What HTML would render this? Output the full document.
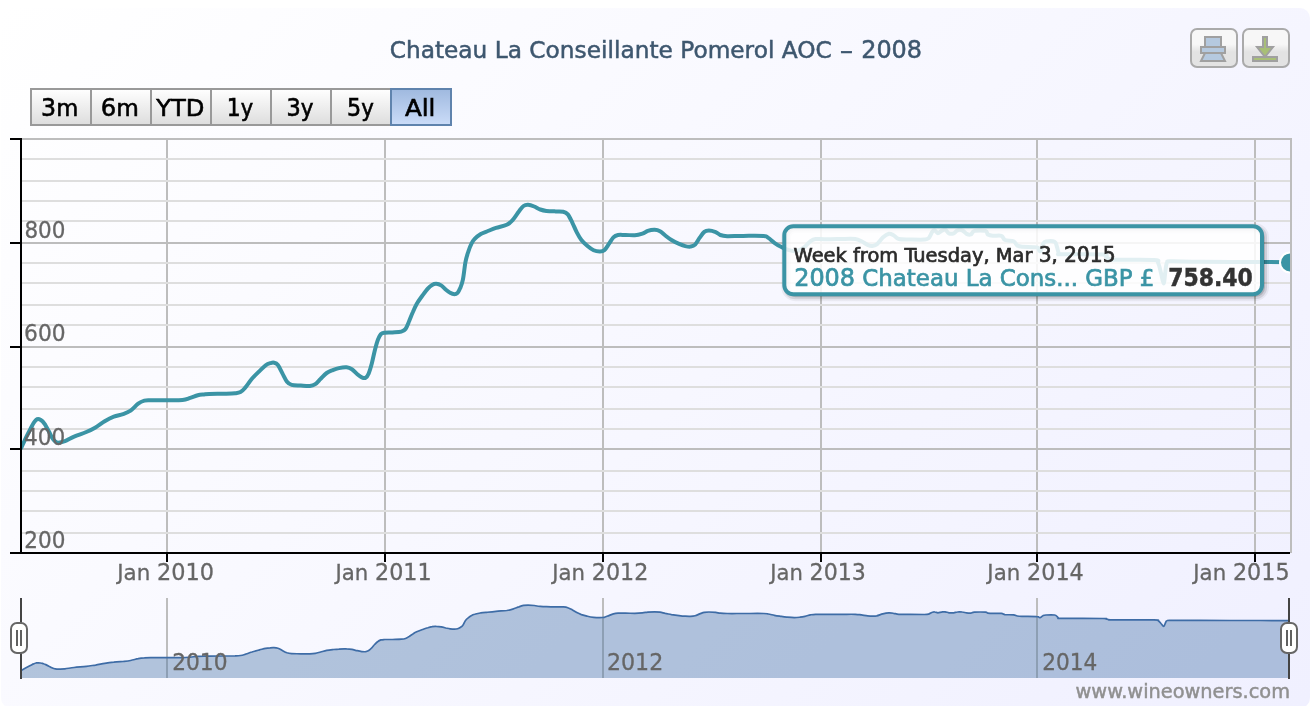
<!DOCTYPE html>
<html lang="en"><head><meta charset="utf-8"><title>Chateau La Conseillante Pomerol AOC - 2008</title>
<style>html,body{margin:0;padding:0;background:#fff;}body{width:1310px;height:706px;overflow:hidden;}svg{display:block;}text{font-family:"DejaVu Sans", "Liberation Sans", sans-serif;stroke-width:0.5px;}</style></head><body>
<svg width="1310" height="706" viewBox="0 0 1310 706">
<defs>
<linearGradient id="bg" gradientUnits="userSpaceOnUse" x1="0" y1="8" x2="1000" y2="1008"><stop offset="0" stop-color="rgb(255,255,255)"/><stop offset="1" stop-color="rgb(240,240,255)"/></linearGradient>
<linearGradient id="btn" x1="0" y1="0" x2="0" y2="1"><stop offset="0.4" stop-color="#F7F7F7"/><stop offset="0.6" stop-color="#E3E3E3"/></linearGradient>
<linearGradient id="btnr" x1="0" y1="0" x2="0" y2="1"><stop offset="0" stop-color="#FFFFFF"/><stop offset="1" stop-color="#DDDDDD"/></linearGradient>
<linearGradient id="btnsel" x1="0" y1="0" x2="0" y2="1"><stop offset="0" stop-color="#9FB9DF"/><stop offset="1" stop-color="#CBDCF8"/></linearGradient>
<clipPath id="plotclip"><rect x="21" y="139" width="1269" height="414"/></clipPath>
<clipPath id="navclip"><rect x="21" y="598" width="1269" height="80"/></clipPath>
</defs>
<rect x="1" y="8" width="1309" height="700" rx="10" ry="10" fill="url(#bg)"/>
<text class="title" x="389.7" y="58" font-size="23.2" fill="#3E576F" stroke="#3E576F" textLength="442.14" lengthAdjust="spacingAndGlyphs">Chateau La Conseillante Pomerol AOC</text>
<text class="title" x="839.4" y="58" font-size="23.2" fill="#3E576F" stroke="#3E576F" textLength="13.86" lengthAdjust="spacingAndGlyphs">-</text>
<text class="title" x="861.2" y="58" font-size="24.2" fill="#3E576F" stroke="#3E576F" textLength="60.88" lengthAdjust="spacingAndGlyphs">2008</text>
<path d="M167 139V553" stroke="#BDBDBD" stroke-width="2" fill="none"/>
<path d="M385 139V553" stroke="#BDBDBD" stroke-width="2" fill="none"/>
<path d="M603 139V553" stroke="#BDBDBD" stroke-width="2" fill="none"/>
<path d="M821 139V553" stroke="#BDBDBD" stroke-width="2" fill="none"/>
<path d="M1037 139V553" stroke="#BDBDBD" stroke-width="2" fill="none"/>
<path d="M1255 139V553" stroke="#BDBDBD" stroke-width="2" fill="none"/>
<path d="M21 159H1291" stroke="#DEDEDE" stroke-width="2" fill="none"/>
<path d="M21 181H1291" stroke="#DEDEDE" stroke-width="2" fill="none"/>
<path d="M21 201H1291" stroke="#DEDEDE" stroke-width="2" fill="none"/>
<path d="M21 221H1291" stroke="#DEDEDE" stroke-width="2" fill="none"/>
<path d="M21 263H1291" stroke="#DEDEDE" stroke-width="2" fill="none"/>
<path d="M21 283H1291" stroke="#DEDEDE" stroke-width="2" fill="none"/>
<path d="M21 305H1291" stroke="#DEDEDE" stroke-width="2" fill="none"/>
<path d="M21 325H1291" stroke="#DEDEDE" stroke-width="2" fill="none"/>
<path d="M21 367H1291" stroke="#DEDEDE" stroke-width="2" fill="none"/>
<path d="M21 387H1291" stroke="#DEDEDE" stroke-width="2" fill="none"/>
<path d="M21 409H1291" stroke="#DEDEDE" stroke-width="2" fill="none"/>
<path d="M21 429H1291" stroke="#DEDEDE" stroke-width="2" fill="none"/>
<path d="M21 471H1291" stroke="#DEDEDE" stroke-width="2" fill="none"/>
<path d="M21 491H1291" stroke="#DEDEDE" stroke-width="2" fill="none"/>
<path d="M21 511H1291" stroke="#DEDEDE" stroke-width="2" fill="none"/>
<path d="M21 533H1291" stroke="#DEDEDE" stroke-width="2" fill="none"/>
<path d="M21 243H1291" stroke="#BDBDBD" stroke-width="2" fill="none"/>
<path d="M21 347H1291" stroke="#BDBDBD" stroke-width="2" fill="none"/>
<path d="M21 449H1291" stroke="#BDBDBD" stroke-width="2" fill="none"/>
<path d="M21 139H1291V553" stroke="#BDBDBD" stroke-width="2" fill="none"/>
<g clip-path="url(#plotclip)"><path d="M21.2 448.0C22.0 446.3 24.5 440.7 26.0 437.6C27.5 434.5 29.0 431.6 30.3 429.2C31.6 426.8 32.6 424.6 33.6 423.0C34.6 421.4 35.2 420.6 36.0 419.9C36.8 419.2 37.5 419.0 38.2 419.0C38.9 419.0 39.7 419.3 40.4 419.7C41.1 420.1 41.8 420.5 42.6 421.4C43.4 422.3 44.2 423.2 45.3 424.9C46.3 426.6 47.8 429.4 48.9 431.5C50.0 433.6 50.9 435.8 51.9 437.4C52.9 439.0 54.0 440.3 55.0 441.2C56.0 442.1 56.4 442.7 58.0 442.7C59.6 442.7 62.2 442.2 64.9 441.2C67.6 440.2 70.5 438.1 74.1 436.6C77.7 435.1 82.7 433.5 86.3 432.0C89.9 430.5 92.4 429.2 95.5 427.4C98.6 425.6 101.7 423.1 104.7 421.3C107.8 419.5 110.8 417.9 113.8 416.7C116.8 415.5 120.2 415.1 123.0 414.1C125.8 413.1 128.1 412.3 130.6 410.6C133.1 408.9 135.9 405.4 138.2 403.7C140.5 402.0 142.3 401.3 144.4 400.7C146.5 400.1 146.7 400.3 150.5 400.2C154.3 400.1 162.0 400.2 167.3 400.2C172.6 400.1 178.7 400.3 182.5 399.9C186.3 399.5 187.6 398.7 190.2 397.9C192.8 397.1 195.5 395.8 197.8 395.2C200.1 394.6 202.1 394.6 204.0 394.4C205.9 394.2 206.0 394.1 209.2 394.0C212.3 393.9 218.6 393.8 222.9 393.7C227.2 393.6 232.2 393.6 235.1 393.3C238.0 393.0 238.8 393.0 240.5 392.1C242.2 391.2 243.1 390.1 245.0 387.9C246.9 385.7 249.5 381.6 251.9 378.8C254.3 376.0 257.2 373.4 259.5 371.1C261.8 368.9 263.8 366.6 265.6 365.3C267.4 364.0 268.8 363.6 270.2 363.2C271.6 362.8 272.7 362.4 274.0 362.7C275.3 363.0 276.5 363.2 277.9 365.0C279.3 366.8 280.9 370.6 282.4 373.4C283.9 376.2 285.5 379.9 287.0 381.8C288.5 383.7 289.3 384.3 291.6 384.9C293.9 385.5 297.8 385.4 300.8 385.6C303.9 385.8 307.5 386.2 309.9 386.0C312.3 385.8 313.5 385.3 315.3 384.1C317.1 382.9 318.7 380.7 320.6 378.8C322.5 376.9 324.7 374.4 326.7 373.0C328.7 371.6 330.8 370.9 332.8 370.1C334.8 369.3 336.6 368.6 338.9 368.1C341.2 367.6 344.4 367.1 346.6 367.3C348.8 367.5 350.1 368.1 351.9 369.2C353.7 370.3 355.6 372.8 357.3 374.2C359.0 375.6 360.4 376.7 361.8 377.3C363.2 377.9 364.5 378.4 365.6 377.7C366.8 377.0 367.7 375.8 368.7 373.4C369.7 371.0 370.8 367.3 371.8 363.5C372.8 359.7 373.8 354.4 374.8 350.5C375.8 346.6 376.9 342.5 377.9 339.8C378.9 337.1 379.8 335.4 380.9 334.2C382.0 333.0 382.8 333.0 384.7 332.7C386.6 332.4 389.6 332.6 392.4 332.4C395.2 332.2 399.1 332.2 401.3 331.6C403.5 331.0 404.2 330.8 405.5 329.0C406.8 327.2 408.0 323.8 409.2 321.0C410.4 318.2 411.6 314.8 412.9 312.0C414.1 309.2 415.1 306.8 416.7 304.0C418.3 301.2 420.6 298.1 422.5 295.5C424.4 292.9 426.2 290.4 427.8 288.6C429.4 286.8 430.7 285.7 432.1 284.9C433.5 284.1 434.8 283.7 436.3 283.8C437.8 283.9 439.5 284.4 441.1 285.4C442.7 286.4 444.4 288.5 445.9 289.7C447.4 290.9 448.7 292.1 450.1 292.8C451.5 293.6 453.1 294.2 454.4 294.2C455.6 294.2 456.6 293.8 457.6 292.8C458.6 291.8 459.3 290.3 460.2 288.1C461.1 285.9 462.0 284.0 462.9 279.6C463.8 275.2 464.6 266.6 465.5 261.8C466.4 257.1 467.5 254.2 468.5 251.1C469.5 248.0 470.6 245.4 471.6 243.4C472.6 241.4 473.2 240.5 474.7 238.9C476.2 237.3 478.8 235.2 480.8 234.0C482.8 232.8 484.4 232.5 486.9 231.5C489.4 230.5 492.7 229.0 496.0 227.9C499.3 226.8 503.9 226.2 506.7 224.8C509.5 223.5 510.8 222.0 512.8 219.8C514.8 217.6 517.1 213.7 518.9 211.4C520.7 209.1 522.0 207.1 523.5 206.0C525.0 204.9 526.3 204.7 528.1 204.8C529.9 204.9 532.2 205.7 534.2 206.5C536.2 207.3 538.3 208.8 540.3 209.5C542.3 210.2 543.8 210.6 546.4 210.9C549.0 211.2 552.8 211.3 555.6 211.4C558.4 211.5 561.2 211.2 563.2 211.7C565.2 212.2 566.3 212.6 567.8 214.4C569.3 216.2 570.9 219.8 572.4 222.8C573.9 225.8 575.3 229.5 576.8 232.4C578.3 235.3 579.6 237.7 581.4 240.0C583.2 242.3 585.5 244.4 587.5 246.1C589.5 247.8 591.6 249.4 593.6 250.3C595.6 251.2 597.9 251.5 599.7 251.5C601.5 251.5 602.8 251.6 604.3 250.3C605.8 249.0 607.4 246.1 608.9 243.9C610.4 241.8 611.9 238.9 613.4 237.4C614.9 235.9 616.0 235.4 618.0 235.0C620.0 234.6 622.8 235.0 625.6 235.0C628.4 235.0 632.0 235.4 634.8 235.2C637.6 235.0 640.2 234.3 642.4 233.6C644.6 232.9 645.8 231.6 647.8 230.9C649.8 230.2 652.7 229.6 654.7 229.7C656.7 229.8 658.2 230.2 660.0 231.2C661.8 232.2 663.4 234.0 665.3 235.5C667.2 237.0 669.2 238.6 671.5 240.0C673.8 241.4 676.8 242.9 679.1 243.9C681.4 244.9 683.3 245.7 685.2 246.1C687.1 246.5 688.9 246.8 690.5 246.6C692.1 246.3 693.6 246.1 695.1 244.6C696.6 243.1 698.2 239.8 699.7 237.7C701.2 235.6 702.8 233.1 704.3 231.9C705.8 230.7 707.0 230.6 708.9 230.6C710.8 230.6 713.8 231.4 715.7 232.1C717.6 232.8 718.4 234.3 720.3 235.0C722.2 235.7 723.4 236.0 727.2 236.2C731.0 236.3 737.1 235.9 743.2 235.9C749.3 235.9 759.5 235.7 763.7 236.0C767.9 236.3 766.5 236.8 768.3 237.9C770.1 239.0 772.4 241.4 774.4 242.8C776.4 244.2 778.5 245.5 780.5 246.6C782.5 247.7 784.3 248.6 786.6 249.4C788.9 250.2 792.1 251.1 794.3 251.2C796.5 251.3 798.2 250.6 800.0 249.8C801.8 249.0 803.3 248.0 805.0 246.6C806.7 245.2 808.5 242.6 810.3 241.3C812.1 240.0 812.9 239.3 815.6 239.0C818.3 238.7 822.0 239.3 826.3 239.3C830.6 239.3 836.8 239.1 841.6 239.0C846.4 238.9 852.0 238.6 855.3 239.0C858.6 239.4 859.5 240.3 861.5 241.3C863.5 242.3 865.8 244.0 867.6 244.8C869.4 245.6 870.6 246.0 872.1 245.9C873.6 245.8 874.9 245.8 876.7 244.4C878.5 243.0 880.8 239.3 882.8 237.5C884.8 235.7 887.1 234.1 888.9 233.7C890.7 233.3 891.8 234.3 893.5 235.2C895.2 236.1 896.1 238.3 898.9 239.0C901.7 239.7 906.0 239.4 910.3 239.5C914.5 239.6 921.3 239.8 924.4 239.6C927.5 239.4 927.4 239.5 928.7 238.2C930.0 236.8 931.4 232.8 932.4 231.5C933.4 230.2 933.9 230.0 934.8 230.3C935.7 230.6 936.8 233.2 937.9 233.3C939.0 233.4 940.3 231.5 941.5 230.9C942.7 230.3 944.0 229.3 945.2 229.7C946.4 230.1 947.5 232.7 948.9 233.3C950.3 233.9 952.3 233.8 953.7 233.3C955.1 232.8 956.0 230.8 957.4 230.3C958.8 229.8 960.8 229.7 962.3 230.3C963.8 230.9 965.2 233.2 966.6 233.9C968.0 234.6 969.5 235.0 970.8 234.5C972.1 234.0 972.0 231.5 974.5 230.9C977.0 230.3 983.3 230.3 985.5 230.9C987.7 231.5 986.7 233.7 987.9 234.5C989.1 235.3 990.5 235.6 992.8 235.8C995.0 236.0 999.4 235.1 1001.4 235.8C1003.4 236.5 1003.0 239.1 1005.0 240.0C1007.0 240.9 1011.6 240.4 1013.6 241.3C1015.6 242.2 1015.9 244.6 1017.3 245.5C1018.7 246.4 1018.9 246.5 1022.1 246.8C1025.3 247.1 1034.0 246.9 1036.8 247.4C1039.6 247.9 1038.4 249.4 1039.0 250.0C1039.6 250.6 1039.8 251.9 1040.5 251.0C1041.2 250.1 1042.0 245.9 1042.9 244.3C1043.8 242.7 1044.0 241.9 1046.0 241.5C1048.0 241.1 1052.8 240.8 1054.6 241.7C1056.4 242.6 1056.3 245.0 1057.0 247.0C1057.7 249.0 1058.1 252.3 1058.9 253.5C1059.7 254.7 1054.7 254.1 1062.0 254.3C1069.3 254.5 1095.4 254.1 1102.7 254.5C1110.0 254.9 1105.0 255.8 1106.0 256.5C1107.0 257.2 1107.8 258.3 1109.0 258.8C1110.2 259.3 1105.5 259.5 1113.0 259.7C1120.5 259.9 1146.5 259.3 1154.0 259.9C1161.5 260.5 1157.0 260.9 1158.2 263.1C1159.4 265.3 1160.1 269.6 1161.0 273.0C1161.9 276.4 1162.9 283.4 1163.6 283.4C1164.3 283.4 1164.7 276.4 1165.2 273.0C1165.7 269.6 1165.8 265.1 1166.8 263.1C1167.8 261.2 1165.5 261.5 1171.0 261.3C1176.5 261.1 1185.0 261.7 1200.0 261.8C1215.0 261.9 1245.8 261.9 1260.8 262.0C1275.8 262.1 1285.1 262.2 1290.0 262.3" fill="none" stroke="#3B94A5" stroke-width="4" stroke-linejoin="round" stroke-linecap="round"/>
<circle cx="1290" cy="262.5" r="10" fill="#3B94A5" stroke="#fff" stroke-width="2"/></g>
<path d="M21 138V553" stroke="#000" stroke-width="2" fill="none"/>
<path d="M10 139H21" stroke="#000" stroke-width="2" fill="none"/>
<path d="M10 243H21" stroke="#000" stroke-width="2" fill="none"/>
<path d="M10 347H21" stroke="#000" stroke-width="2" fill="none"/>
<path d="M10 449H21" stroke="#000" stroke-width="2" fill="none"/>
<path d="M10 553H1290" stroke="#000" stroke-width="2" fill="none"/>
<path d="M167 553V562" stroke="#000" stroke-width="2" fill="none"/>
<path d="M385 553V562" stroke="#000" stroke-width="2" fill="none"/>
<path d="M603 553V562" stroke="#000" stroke-width="2" fill="none"/>
<path d="M821 553V562" stroke="#000" stroke-width="2" fill="none"/>
<path d="M1037 553V562" stroke="#000" stroke-width="2" fill="none"/>
<path d="M1255 553V562" stroke="#000" stroke-width="2" fill="none"/>
<text class="yl" x="24.45" y="237.8" font-size="22.6" fill="#666" stroke="#666" style="stroke-width:0.3px" textLength="41.00" lengthAdjust="spacingAndGlyphs">800</text>
<text class="yl" x="24.05" y="341.3" font-size="22.6" fill="#666" stroke="#666" style="stroke-width:0.3px" textLength="41.53" lengthAdjust="spacingAndGlyphs">600</text>
<text class="yl" x="24.05" y="444.8" font-size="22.6" fill="#666" stroke="#666" style="stroke-width:0.3px" textLength="41.23" lengthAdjust="spacingAndGlyphs">400</text>
<text class="yl" x="24.35" y="548.3" font-size="22.6" fill="#666" stroke="#666" style="stroke-width:0.3px" textLength="41.15" lengthAdjust="spacingAndGlyphs">200</text>
<text class="xl" x="117.25" y="580" font-size="21.7" fill="#666" stroke="#666" style="stroke-width:0.3px" textLength="96.88" lengthAdjust="spacingAndGlyphs">Jan <tspan font-size="22.68">2010</tspan></text>
<text class="xl" x="335.45" y="580" font-size="21.7" fill="#666" stroke="#666" style="stroke-width:0.3px" textLength="96.22" lengthAdjust="spacingAndGlyphs">Jan <tspan font-size="22.68">2011</tspan></text>
<text class="xl" x="552.25" y="580" font-size="21.7" fill="#666" stroke="#666" style="stroke-width:0.3px" textLength="96.12" lengthAdjust="spacingAndGlyphs">Jan <tspan font-size="22.68">2012</tspan></text>
<text class="xl" x="770.25" y="580" font-size="21.7" fill="#666" stroke="#666" style="stroke-width:0.3px" textLength="95.62" lengthAdjust="spacingAndGlyphs">Jan <tspan font-size="22.68">2013</tspan></text>
<text class="xl" x="987.35" y="580" font-size="21.7" fill="#666" stroke="#666" style="stroke-width:0.3px" textLength="96.44" lengthAdjust="spacingAndGlyphs">Jan <tspan font-size="22.68">2014</tspan></text>
<text class="xl" x="1193.35" y="580" font-size="21.7" fill="#666" stroke="#666" style="stroke-width:0.3px" textLength="96.22" lengthAdjust="spacingAndGlyphs">Jan <tspan font-size="22.68">2015</tspan></text>
<path d="M167 598V678" stroke="#BDBDBD" stroke-width="2" fill="none"/>
<path d="M603 598V678" stroke="#BDBDBD" stroke-width="2" fill="none"/>
<path d="M1037 598V678" stroke="#BDBDBD" stroke-width="2" fill="none"/>
<g clip-path="url(#navclip)"><path d="M21.2 670.6C22.0 670.1 24.5 668.6 26.0 667.8C27.5 667.0 29.0 666.2 30.3 665.5C31.6 664.9 32.6 664.3 33.6 663.9C34.6 663.4 35.2 663.2 36.0 663.0C36.8 662.9 37.5 662.8 38.2 662.8C38.9 662.8 39.7 662.9 40.4 663.0C41.1 663.1 41.8 663.2 42.6 663.4C43.4 663.7 44.2 663.9 45.3 664.4C46.3 664.8 47.8 665.6 48.9 666.2C50.0 666.7 50.9 667.3 51.9 667.7C52.9 668.2 54.0 668.5 55.0 668.8C56.0 669.0 56.4 669.2 58.0 669.2C59.6 669.2 62.2 669.0 64.9 668.8C67.6 668.5 70.5 667.9 74.1 667.5C77.7 667.1 82.7 666.7 86.3 666.3C89.9 665.9 92.4 665.5 95.5 665.1C98.6 664.6 101.7 663.9 104.7 663.4C107.8 662.9 110.8 662.5 113.8 662.2C116.8 661.8 120.2 661.7 123.0 661.5C125.8 661.2 128.1 661.0 130.6 660.5C133.1 660.1 135.9 659.1 138.2 658.7C140.5 658.2 142.3 658.0 144.4 657.9C146.5 657.7 146.7 657.7 150.5 657.7C154.3 657.7 162.0 657.7 167.3 657.7C172.6 657.7 178.7 657.7 182.5 657.6C186.3 657.5 187.6 657.3 190.2 657.1C192.8 656.9 195.5 656.5 197.8 656.4C200.1 656.2 202.1 656.2 204.0 656.2C205.9 656.1 206.0 656.1 209.2 656.1C212.3 656.0 218.6 656.0 222.9 656.0C227.2 655.9 232.2 655.9 235.1 655.9C238.0 655.8 238.8 655.8 240.5 655.5C242.2 655.3 243.1 655.0 245.0 654.4C246.9 653.8 249.5 652.7 251.9 652.0C254.3 651.2 257.2 650.5 259.5 649.9C261.8 649.3 263.8 648.7 265.6 648.3C267.4 648.0 268.8 647.9 270.2 647.8C271.6 647.6 272.7 647.5 274.0 647.6C275.3 647.7 276.5 647.8 277.9 648.2C279.3 648.7 280.9 649.7 282.4 650.5C283.9 651.3 285.5 652.2 287.0 652.8C288.5 653.3 289.3 653.4 291.6 653.6C293.9 653.8 297.8 653.7 300.8 653.8C303.9 653.8 307.5 654.0 309.9 653.9C312.3 653.8 313.5 653.7 315.3 653.4C317.1 653.1 318.7 652.5 320.6 652.0C322.5 651.5 324.7 650.8 326.7 650.4C328.7 650.0 330.8 649.8 332.8 649.6C334.8 649.4 336.6 649.2 338.9 649.1C341.2 648.9 344.4 648.8 346.6 648.9C348.8 648.9 350.1 649.1 351.9 649.4C353.7 649.7 355.6 650.4 357.3 650.7C359.0 651.1 360.4 651.4 361.8 651.6C363.2 651.7 364.5 651.8 365.6 651.7C366.8 651.5 367.7 651.1 368.7 650.5C369.7 649.9 370.8 648.9 371.8 647.8C372.8 646.8 373.8 645.4 374.8 644.3C375.8 643.3 376.9 642.2 377.9 641.5C378.9 640.7 379.8 640.3 380.9 639.9C382.0 639.6 382.8 639.6 384.7 639.5C386.6 639.5 389.6 639.5 392.4 639.5C395.2 639.4 399.1 639.4 401.3 639.2C403.5 639.1 404.2 639.0 405.5 638.5C406.8 638.1 408.0 637.1 409.2 636.4C410.4 635.6 411.6 634.7 412.9 634.0C414.1 633.2 415.1 632.5 416.7 631.8C418.3 631.1 420.6 630.2 422.5 629.5C424.4 628.8 426.2 628.1 427.8 627.7C429.4 627.2 430.7 626.9 432.1 626.7C433.5 626.4 434.8 626.3 436.3 626.4C437.8 626.4 439.5 626.5 441.1 626.8C442.7 627.1 444.4 627.6 445.9 628.0C447.4 628.3 448.7 628.6 450.1 628.8C451.5 629.0 453.1 629.2 454.4 629.2C455.6 629.2 456.6 629.1 457.6 628.8C458.6 628.5 459.3 628.1 460.2 627.5C461.1 626.9 462.0 626.4 462.9 625.2C463.8 624.1 464.6 621.7 465.5 620.4C466.4 619.2 467.5 618.4 468.5 617.6C469.5 616.7 470.6 616.0 471.6 615.5C472.6 614.9 473.2 614.7 474.7 614.3C476.2 613.8 478.8 613.3 480.8 612.9C482.8 612.6 484.4 612.5 486.9 612.3C489.4 612.0 492.7 611.6 496.0 611.3C499.3 611.0 503.9 610.8 506.7 610.5C509.5 610.1 510.8 609.7 512.8 609.1C514.8 608.5 517.1 607.5 518.9 606.9C520.7 606.2 522.0 605.7 523.5 605.4C525.0 605.1 526.3 605.1 528.1 605.1C529.9 605.1 532.2 605.3 534.2 605.5C536.2 605.8 538.3 606.2 540.3 606.3C542.3 606.5 543.8 606.6 546.4 606.7C549.0 606.8 552.8 606.8 555.6 606.9C558.4 606.9 561.2 606.8 563.2 606.9C565.2 607.1 566.3 607.2 567.8 607.7C569.3 608.2 570.9 609.1 572.4 609.9C573.9 610.7 575.3 611.7 576.8 612.5C578.3 613.3 579.6 613.9 581.4 614.6C583.2 615.2 585.5 615.7 587.5 616.2C589.5 616.7 591.6 617.1 593.6 617.3C595.6 617.6 597.9 617.7 599.7 617.7C601.5 617.7 602.8 617.7 604.3 617.3C605.8 617.0 607.4 616.2 608.9 615.6C610.4 615.0 611.9 614.3 613.4 613.9C614.9 613.5 616.0 613.3 618.0 613.2C620.0 613.1 622.8 613.2 625.6 613.2C628.4 613.2 632.0 613.3 634.8 613.3C637.6 613.2 640.2 613.0 642.4 612.8C644.6 612.6 645.8 612.3 647.8 612.1C649.8 611.9 652.7 611.8 654.7 611.8C656.7 611.8 658.2 611.9 660.0 612.2C661.8 612.5 663.4 613.0 665.3 613.4C667.2 613.7 669.2 614.2 671.5 614.6C673.8 614.9 676.8 615.3 679.1 615.6C681.4 615.9 683.3 616.1 685.2 616.2C687.1 616.3 688.9 616.4 690.5 616.3C692.1 616.3 693.6 616.2 695.1 615.8C696.6 615.4 698.2 614.5 699.7 613.9C701.2 613.4 702.8 612.7 704.3 612.4C705.8 612.1 707.0 612.0 708.9 612.0C710.8 612.0 713.8 612.2 715.7 612.4C717.6 612.6 718.4 613.0 720.3 613.2C722.2 613.4 723.4 613.5 727.2 613.5C731.0 613.6 737.1 613.5 743.2 613.5C749.3 613.5 759.5 613.4 763.7 613.5C767.9 613.6 766.5 613.7 768.3 614.0C770.1 614.3 772.4 614.9 774.4 615.3C776.4 615.7 778.5 616.0 780.5 616.3C782.5 616.6 784.3 616.9 786.6 617.1C788.9 617.3 792.1 617.6 794.3 617.6C796.5 617.6 798.2 617.4 800.0 617.2C801.8 617.0 803.3 616.7 805.0 616.3C806.7 616.0 808.5 615.3 810.3 614.9C812.1 614.6 812.9 614.4 815.6 614.3C818.3 614.2 822.0 614.4 826.3 614.4C830.6 614.4 836.8 614.3 841.6 614.3C846.4 614.3 852.0 614.2 855.3 614.3C858.6 614.4 859.5 614.7 861.5 614.9C863.5 615.2 865.8 615.7 867.6 615.9C869.4 616.1 870.6 616.2 872.1 616.2C873.6 616.1 874.9 616.1 876.7 615.8C878.5 615.4 880.8 614.4 882.8 613.9C884.8 613.4 887.1 613.0 888.9 612.9C890.7 612.8 891.8 613.0 893.5 613.3C895.2 613.5 896.1 614.1 898.9 614.3C901.7 614.5 906.0 614.4 910.3 614.4C914.5 614.5 921.3 614.5 924.4 614.5C927.5 614.4 927.4 614.4 928.7 614.1C930.0 613.7 931.4 612.6 932.4 612.3C933.4 611.9 933.9 611.9 934.8 612.0C935.7 612.0 936.8 612.7 937.9 612.8C939.0 612.8 940.3 612.3 941.5 612.1C942.7 612.0 944.0 611.7 945.2 611.8C946.4 611.9 947.5 612.6 948.9 612.8C950.3 612.9 952.3 612.9 953.7 612.8C955.1 612.6 956.0 612.1 957.4 612.0C958.8 611.8 960.8 611.8 962.3 612.0C963.8 612.1 965.2 612.7 966.6 612.9C968.0 613.1 969.5 613.2 970.8 613.1C972.1 612.9 972.0 612.3 974.5 612.1C977.0 612.0 983.3 612.0 985.5 612.1C987.7 612.3 986.7 612.9 987.9 613.1C989.1 613.3 990.5 613.4 992.8 613.4C995.0 613.5 999.4 613.2 1001.4 613.4C1003.4 613.6 1003.0 614.3 1005.0 614.6C1007.0 614.8 1011.6 614.7 1013.6 614.9C1015.6 615.2 1015.9 615.8 1017.3 616.0C1018.7 616.3 1018.9 616.3 1022.1 616.4C1025.3 616.5 1034.0 616.4 1036.8 616.6C1039.6 616.7 1038.4 617.1 1039.0 617.3C1039.6 617.4 1039.8 617.8 1040.5 617.5C1041.2 617.3 1042.0 616.1 1042.9 615.7C1043.8 615.3 1044.0 615.1 1046.0 615.0C1048.0 614.9 1052.8 614.8 1054.6 615.0C1056.4 615.3 1056.3 615.9 1057.0 616.5C1057.7 617.0 1058.1 617.9 1058.9 618.2C1059.7 618.5 1054.7 618.4 1062.0 618.4C1069.3 618.5 1095.4 618.4 1102.7 618.5C1110.0 618.6 1105.0 618.8 1106.0 619.0C1107.0 619.2 1107.8 619.5 1109.0 619.6C1110.2 619.8 1105.5 619.8 1113.0 619.9C1120.5 619.9 1146.5 619.8 1154.0 619.9C1161.5 620.1 1157.0 620.2 1158.2 620.8C1159.4 621.4 1160.1 622.5 1161.0 623.5C1161.9 624.4 1162.9 626.3 1163.6 626.3C1164.3 626.3 1164.7 624.4 1165.2 623.5C1165.7 622.5 1165.8 621.3 1166.8 620.8C1167.8 620.3 1165.5 620.4 1171.0 620.3C1176.5 620.2 1185.0 620.4 1200.0 620.4C1215.0 620.5 1245.8 620.5 1260.8 620.5C1275.8 620.5 1285.1 620.6 1290.0 620.6L1290.0 678L21.2 678Z" fill="#4572A7" fill-opacity="0.4"/><path d="M21.2 670.6C22.0 670.1 24.5 668.6 26.0 667.8C27.5 667.0 29.0 666.2 30.3 665.5C31.6 664.9 32.6 664.3 33.6 663.9C34.6 663.4 35.2 663.2 36.0 663.0C36.8 662.9 37.5 662.8 38.2 662.8C38.9 662.8 39.7 662.9 40.4 663.0C41.1 663.1 41.8 663.2 42.6 663.4C43.4 663.7 44.2 663.9 45.3 664.4C46.3 664.8 47.8 665.6 48.9 666.2C50.0 666.7 50.9 667.3 51.9 667.7C52.9 668.2 54.0 668.5 55.0 668.8C56.0 669.0 56.4 669.2 58.0 669.2C59.6 669.2 62.2 669.0 64.9 668.8C67.6 668.5 70.5 667.9 74.1 667.5C77.7 667.1 82.7 666.7 86.3 666.3C89.9 665.9 92.4 665.5 95.5 665.1C98.6 664.6 101.7 663.9 104.7 663.4C107.8 662.9 110.8 662.5 113.8 662.2C116.8 661.8 120.2 661.7 123.0 661.5C125.8 661.2 128.1 661.0 130.6 660.5C133.1 660.1 135.9 659.1 138.2 658.7C140.5 658.2 142.3 658.0 144.4 657.9C146.5 657.7 146.7 657.7 150.5 657.7C154.3 657.7 162.0 657.7 167.3 657.7C172.6 657.7 178.7 657.7 182.5 657.6C186.3 657.5 187.6 657.3 190.2 657.1C192.8 656.9 195.5 656.5 197.8 656.4C200.1 656.2 202.1 656.2 204.0 656.2C205.9 656.1 206.0 656.1 209.2 656.1C212.3 656.0 218.6 656.0 222.9 656.0C227.2 655.9 232.2 655.9 235.1 655.9C238.0 655.8 238.8 655.8 240.5 655.5C242.2 655.3 243.1 655.0 245.0 654.4C246.9 653.8 249.5 652.7 251.9 652.0C254.3 651.2 257.2 650.5 259.5 649.9C261.8 649.3 263.8 648.7 265.6 648.3C267.4 648.0 268.8 647.9 270.2 647.8C271.6 647.6 272.7 647.5 274.0 647.6C275.3 647.7 276.5 647.8 277.9 648.2C279.3 648.7 280.9 649.7 282.4 650.5C283.9 651.3 285.5 652.2 287.0 652.8C288.5 653.3 289.3 653.4 291.6 653.6C293.9 653.8 297.8 653.7 300.8 653.8C303.9 653.8 307.5 654.0 309.9 653.9C312.3 653.8 313.5 653.7 315.3 653.4C317.1 653.1 318.7 652.5 320.6 652.0C322.5 651.5 324.7 650.8 326.7 650.4C328.7 650.0 330.8 649.8 332.8 649.6C334.8 649.4 336.6 649.2 338.9 649.1C341.2 648.9 344.4 648.8 346.6 648.9C348.8 648.9 350.1 649.1 351.9 649.4C353.7 649.7 355.6 650.4 357.3 650.7C359.0 651.1 360.4 651.4 361.8 651.6C363.2 651.7 364.5 651.8 365.6 651.7C366.8 651.5 367.7 651.1 368.7 650.5C369.7 649.9 370.8 648.9 371.8 647.8C372.8 646.8 373.8 645.4 374.8 644.3C375.8 643.3 376.9 642.2 377.9 641.5C378.9 640.7 379.8 640.3 380.9 639.9C382.0 639.6 382.8 639.6 384.7 639.5C386.6 639.5 389.6 639.5 392.4 639.5C395.2 639.4 399.1 639.4 401.3 639.2C403.5 639.1 404.2 639.0 405.5 638.5C406.8 638.1 408.0 637.1 409.2 636.4C410.4 635.6 411.6 634.7 412.9 634.0C414.1 633.2 415.1 632.5 416.7 631.8C418.3 631.1 420.6 630.2 422.5 629.5C424.4 628.8 426.2 628.1 427.8 627.7C429.4 627.2 430.7 626.9 432.1 626.7C433.5 626.4 434.8 626.3 436.3 626.4C437.8 626.4 439.5 626.5 441.1 626.8C442.7 627.1 444.4 627.6 445.9 628.0C447.4 628.3 448.7 628.6 450.1 628.8C451.5 629.0 453.1 629.2 454.4 629.2C455.6 629.2 456.6 629.1 457.6 628.8C458.6 628.5 459.3 628.1 460.2 627.5C461.1 626.9 462.0 626.4 462.9 625.2C463.8 624.1 464.6 621.7 465.5 620.4C466.4 619.2 467.5 618.4 468.5 617.6C469.5 616.7 470.6 616.0 471.6 615.5C472.6 614.9 473.2 614.7 474.7 614.3C476.2 613.8 478.8 613.3 480.8 612.9C482.8 612.6 484.4 612.5 486.9 612.3C489.4 612.0 492.7 611.6 496.0 611.3C499.3 611.0 503.9 610.8 506.7 610.5C509.5 610.1 510.8 609.7 512.8 609.1C514.8 608.5 517.1 607.5 518.9 606.9C520.7 606.2 522.0 605.7 523.5 605.4C525.0 605.1 526.3 605.1 528.1 605.1C529.9 605.1 532.2 605.3 534.2 605.5C536.2 605.8 538.3 606.2 540.3 606.3C542.3 606.5 543.8 606.6 546.4 606.7C549.0 606.8 552.8 606.8 555.6 606.9C558.4 606.9 561.2 606.8 563.2 606.9C565.2 607.1 566.3 607.2 567.8 607.7C569.3 608.2 570.9 609.1 572.4 609.9C573.9 610.7 575.3 611.7 576.8 612.5C578.3 613.3 579.6 613.9 581.4 614.6C583.2 615.2 585.5 615.7 587.5 616.2C589.5 616.7 591.6 617.1 593.6 617.3C595.6 617.6 597.9 617.7 599.7 617.7C601.5 617.7 602.8 617.7 604.3 617.3C605.8 617.0 607.4 616.2 608.9 615.6C610.4 615.0 611.9 614.3 613.4 613.9C614.9 613.5 616.0 613.3 618.0 613.2C620.0 613.1 622.8 613.2 625.6 613.2C628.4 613.2 632.0 613.3 634.8 613.3C637.6 613.2 640.2 613.0 642.4 612.8C644.6 612.6 645.8 612.3 647.8 612.1C649.8 611.9 652.7 611.8 654.7 611.8C656.7 611.8 658.2 611.9 660.0 612.2C661.8 612.5 663.4 613.0 665.3 613.4C667.2 613.7 669.2 614.2 671.5 614.6C673.8 614.9 676.8 615.3 679.1 615.6C681.4 615.9 683.3 616.1 685.2 616.2C687.1 616.3 688.9 616.4 690.5 616.3C692.1 616.3 693.6 616.2 695.1 615.8C696.6 615.4 698.2 614.5 699.7 613.9C701.2 613.4 702.8 612.7 704.3 612.4C705.8 612.1 707.0 612.0 708.9 612.0C710.8 612.0 713.8 612.2 715.7 612.4C717.6 612.6 718.4 613.0 720.3 613.2C722.2 613.4 723.4 613.5 727.2 613.5C731.0 613.6 737.1 613.5 743.2 613.5C749.3 613.5 759.5 613.4 763.7 613.5C767.9 613.6 766.5 613.7 768.3 614.0C770.1 614.3 772.4 614.9 774.4 615.3C776.4 615.7 778.5 616.0 780.5 616.3C782.5 616.6 784.3 616.9 786.6 617.1C788.9 617.3 792.1 617.6 794.3 617.6C796.5 617.6 798.2 617.4 800.0 617.2C801.8 617.0 803.3 616.7 805.0 616.3C806.7 616.0 808.5 615.3 810.3 614.9C812.1 614.6 812.9 614.4 815.6 614.3C818.3 614.2 822.0 614.4 826.3 614.4C830.6 614.4 836.8 614.3 841.6 614.3C846.4 614.3 852.0 614.2 855.3 614.3C858.6 614.4 859.5 614.7 861.5 614.9C863.5 615.2 865.8 615.7 867.6 615.9C869.4 616.1 870.6 616.2 872.1 616.2C873.6 616.1 874.9 616.1 876.7 615.8C878.5 615.4 880.8 614.4 882.8 613.9C884.8 613.4 887.1 613.0 888.9 612.9C890.7 612.8 891.8 613.0 893.5 613.3C895.2 613.5 896.1 614.1 898.9 614.3C901.7 614.5 906.0 614.4 910.3 614.4C914.5 614.5 921.3 614.5 924.4 614.5C927.5 614.4 927.4 614.4 928.7 614.1C930.0 613.7 931.4 612.6 932.4 612.3C933.4 611.9 933.9 611.9 934.8 612.0C935.7 612.0 936.8 612.7 937.9 612.8C939.0 612.8 940.3 612.3 941.5 612.1C942.7 612.0 944.0 611.7 945.2 611.8C946.4 611.9 947.5 612.6 948.9 612.8C950.3 612.9 952.3 612.9 953.7 612.8C955.1 612.6 956.0 612.1 957.4 612.0C958.8 611.8 960.8 611.8 962.3 612.0C963.8 612.1 965.2 612.7 966.6 612.9C968.0 613.1 969.5 613.2 970.8 613.1C972.1 612.9 972.0 612.3 974.5 612.1C977.0 612.0 983.3 612.0 985.5 612.1C987.7 612.3 986.7 612.9 987.9 613.1C989.1 613.3 990.5 613.4 992.8 613.4C995.0 613.5 999.4 613.2 1001.4 613.4C1003.4 613.6 1003.0 614.3 1005.0 614.6C1007.0 614.8 1011.6 614.7 1013.6 614.9C1015.6 615.2 1015.9 615.8 1017.3 616.0C1018.7 616.3 1018.9 616.3 1022.1 616.4C1025.3 616.5 1034.0 616.4 1036.8 616.6C1039.6 616.7 1038.4 617.1 1039.0 617.3C1039.6 617.4 1039.8 617.8 1040.5 617.5C1041.2 617.3 1042.0 616.1 1042.9 615.7C1043.8 615.3 1044.0 615.1 1046.0 615.0C1048.0 614.9 1052.8 614.8 1054.6 615.0C1056.4 615.3 1056.3 615.9 1057.0 616.5C1057.7 617.0 1058.1 617.9 1058.9 618.2C1059.7 618.5 1054.7 618.4 1062.0 618.4C1069.3 618.5 1095.4 618.4 1102.7 618.5C1110.0 618.6 1105.0 618.8 1106.0 619.0C1107.0 619.2 1107.8 619.5 1109.0 619.6C1110.2 619.8 1105.5 619.8 1113.0 619.9C1120.5 619.9 1146.5 619.8 1154.0 619.9C1161.5 620.1 1157.0 620.2 1158.2 620.8C1159.4 621.4 1160.1 622.5 1161.0 623.5C1161.9 624.4 1162.9 626.3 1163.6 626.3C1164.3 626.3 1164.7 624.4 1165.2 623.5C1165.7 622.5 1165.8 621.3 1166.8 620.8C1167.8 620.3 1165.5 620.4 1171.0 620.3C1176.5 620.2 1185.0 620.4 1200.0 620.4C1215.0 620.5 1245.8 620.5 1260.8 620.5C1275.8 620.5 1285.1 620.6 1290.0 620.6" fill="none" stroke="#3E6CA6" stroke-width="1.7" stroke-linejoin="round"/></g>
<text class="nl" x="172.15" y="669.7" font-size="22.6" fill="#666" stroke="#666" style="stroke-width:0.3px" textLength="55.35" lengthAdjust="spacingAndGlyphs">2010</text>
<text class="nl" x="606.9" y="669.7" font-size="22.6" fill="#666" stroke="#666" style="stroke-width:0.3px" textLength="56.38" lengthAdjust="spacingAndGlyphs">2012</text>
<text class="nl" x="1042.15" y="669.7" font-size="22.6" fill="#666" stroke="#666" style="stroke-width:0.3px" textLength="55.10" lengthAdjust="spacingAndGlyphs">2014</text>
<path d="M21 598V679M1289 598V679" stroke="#444" stroke-width="2" fill="none"/>
<g transform="translate(19.0,622)"><rect x="-8" y="1" width="16" height="30" rx="6" ry="6" fill="#FFF" stroke="#666" stroke-width="2"/><path d="M-2 8V24M2 8V24" stroke="#606060" stroke-width="2" fill="none"/></g>
<g transform="translate(1289.0,622)"><rect x="-8" y="1" width="16" height="30" rx="6" ry="6" fill="#FFF" stroke="#666" stroke-width="2"/><path d="M-2 8V24M2 8V24" stroke="#606060" stroke-width="2" fill="none"/></g>
<rect x="31" y="89" width="60" height="36" fill="url(#btnr)" stroke="#999" stroke-width="2"/>
<rect x="91" y="89" width="60" height="36" fill="url(#btnr)" stroke="#999" stroke-width="2"/>
<rect x="151" y="89" width="60" height="36" fill="url(#btnr)" stroke="#999" stroke-width="2"/>
<rect x="211" y="89" width="60" height="36" fill="url(#btnr)" stroke="#999" stroke-width="2"/>
<rect x="271" y="89" width="60" height="36" fill="url(#btnr)" stroke="#999" stroke-width="2"/>
<rect x="331" y="89" width="60" height="36" fill="url(#btnr)" stroke="#999" stroke-width="2"/>
<text class="bt" x="41.1" y="115.8" font-size="23.5" fill="#000" stroke="#000" style="stroke-width:0.6px" textLength="37.16" lengthAdjust="spacingAndGlyphs"><tspan font-size="24.56">3</tspan>m</text>
<text class="bt" x="100.7" y="115.8" font-size="23.5" fill="#000" stroke="#000" style="stroke-width:0.6px" textLength="38.04" lengthAdjust="spacingAndGlyphs"><tspan font-size="24.56">6</tspan>m</text>
<text class="bt" x="156.25" y="115.8" font-size="23.5" fill="#000" stroke="#000" style="stroke-width:0.6px" textLength="48.29" lengthAdjust="spacingAndGlyphs">YTD</text>
<text class="bt" x="226.85" y="115.8" font-size="23.5" fill="#000" stroke="#000" style="stroke-width:0.6px" textLength="26.43" lengthAdjust="spacingAndGlyphs"><tspan font-size="24.56">1</tspan>y</text>
<text class="bt" x="286.4" y="115.8" font-size="23.5" fill="#000" stroke="#000" style="stroke-width:0.6px" textLength="27.02" lengthAdjust="spacingAndGlyphs"><tspan font-size="24.56">3</tspan>y</text>
<text class="bt" x="347.1" y="115.8" font-size="23.5" fill="#000" stroke="#000" style="stroke-width:0.6px" textLength="26.84" lengthAdjust="spacingAndGlyphs"><tspan font-size="24.56">5</tspan>y</text>
<rect x="391" y="89" width="60" height="36" fill="url(#btnsel)" stroke="#5F83AD" stroke-width="2"/>
<text class="bt" x="404.95" y="115.8" font-size="23.5" fill="#000" stroke="#000" style="stroke-width:0.6px" textLength="30.52" lengthAdjust="spacingAndGlyphs">All</text>
<rect x="1191" y="29" width="46" height="38" rx="6" ry="6" fill="url(#btn)" stroke="#AAA" stroke-width="2"/>
<rect x="1243" y="29" width="46" height="38" rx="6" ry="6" fill="url(#btn)" stroke="#AAA" stroke-width="2"/>
<path d="M1205 47L1205 37 1221 37 1221 47ZM1201 47L1225 47 1225 53 1201 53ZM1205 53L1201 61 1225 61 1221 53Z" fill="#B5C9DF" stroke="#A0A0A0" stroke-width="2"/>
<path d="M1253 61L1277 61 1277 57 1253 57ZM1265 57L1257 47 1263 47 1263 37 1267 37 1267 47 1273 47Z" fill="#A8BF77" stroke="#A0A0A0" stroke-width="2"/>
<rect x="786.3" y="228.2" width="477.7" height="68.0" rx="9" ry="9" fill="none" stroke="#000" stroke-opacity="0.05" stroke-width="10"/>
<rect x="786.3" y="228.2" width="477.7" height="68.0" rx="9" ry="9" fill="none" stroke="#000" stroke-opacity="0.1" stroke-width="6"/>
<rect x="786.3" y="228.2" width="477.7" height="68.0" rx="9" ry="9" fill="none" stroke="#000" stroke-opacity="0.15" stroke-width="2"/>
<rect x="784.3" y="226.2" width="477.7" height="68.0" rx="9" ry="9" fill="#fff" fill-opacity="0.85" stroke="#3B94A5" stroke-width="4"/>
<text class="tt1" x="793.6" y="261.8" font-size="20" fill="#2b2b2b" stroke="#2b2b2b" style="stroke-width:0.7px" textLength="321.96" lengthAdjust="spacingAndGlyphs">Week from Tuesday, Mar <tspan font-size="20.90">3</tspan>, <tspan font-size="20.90">2015</tspan></text>
<text class="tt2" x="794.2" y="285.7" font-size="23" fill="#3B94A5" stroke="#3B94A5" style="stroke-width:0.7px" textLength="360.23" lengthAdjust="spacingAndGlyphs"><tspan font-size="24.03">2008</tspan> Chateau La Cons... GBP £</text>
<text class="tt3" x="1168.15" y="285.7" font-size="24" fill="#333" stroke="#333" textLength="84.59" lengthAdjust="spacingAndGlyphs" font-weight="bold">758.40</text>
<text class="cred" x="1075.5" y="697.7" font-size="20" fill="#909090" stroke="#909090" textLength="214.51" lengthAdjust="spacingAndGlyphs">www.wineowners.com</text>
</svg></body></html>
